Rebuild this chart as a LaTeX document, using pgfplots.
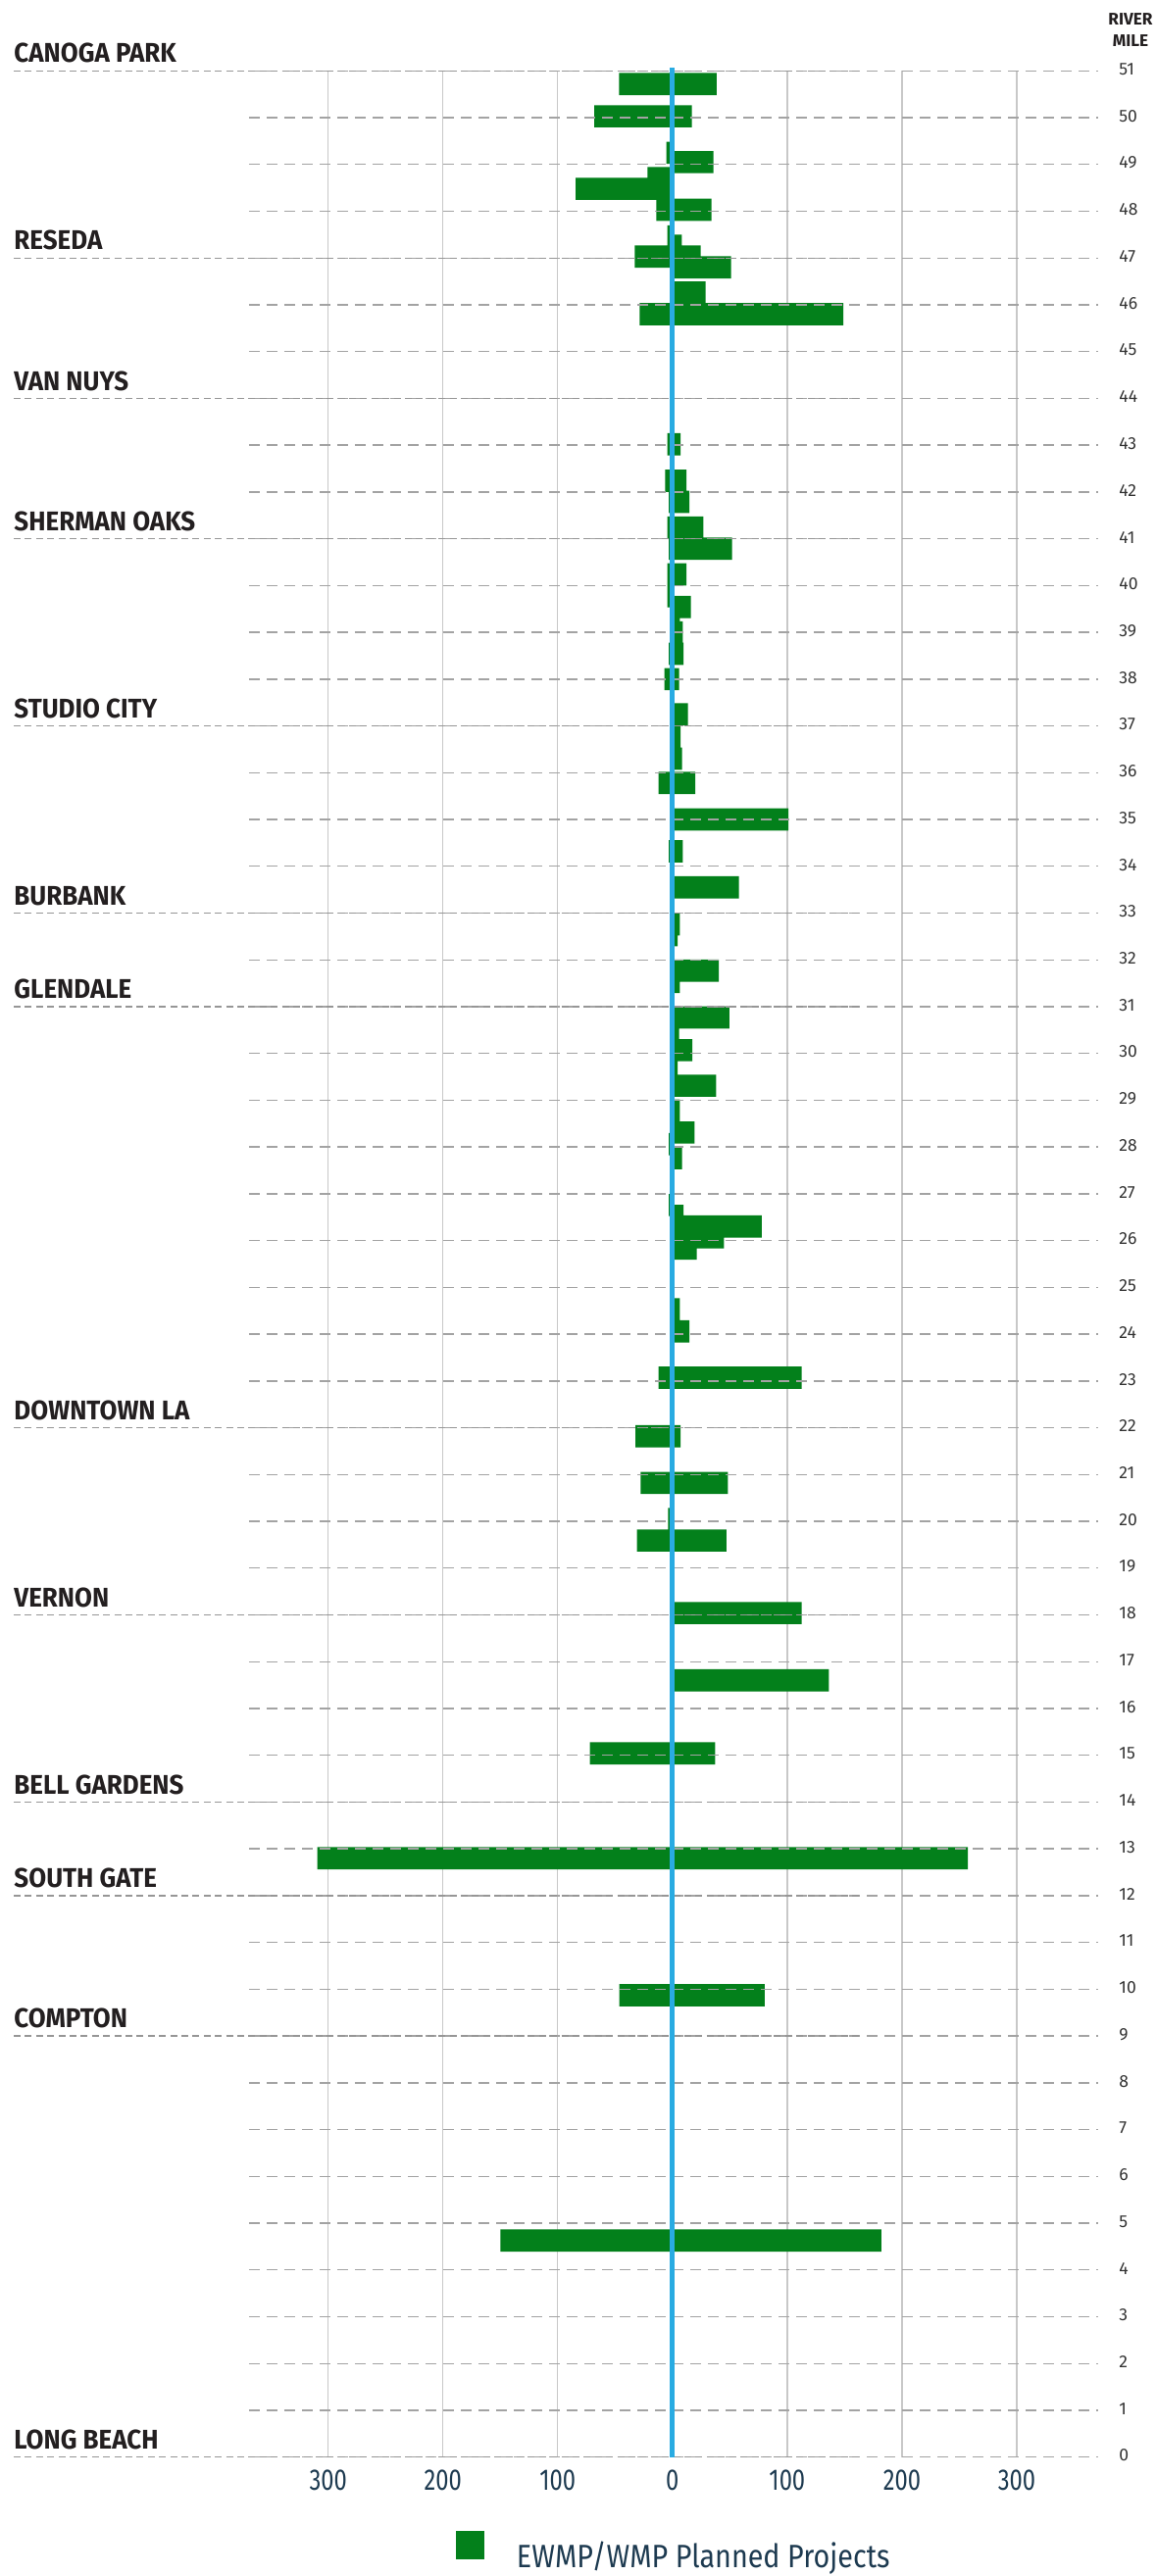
\documentclass[border=0pt]{standalone}
\usepackage{fontspec}
\setmainfont{Fira Sans}
\newfontfamily\cityfont{Fira Sans}[FakeStretch=0.94]
\newfontfamily\tickfont{Fira Sans}[FakeStretch=0.78]
\newfontfamily\legfont{Fira Sans}[FakeStretch=0.87]
\usepackage{pgfplots}
\pgfplotsset{compat=1.18}

\definecolor{barg}{RGB}{3,128,27}
\definecolor{riverblue}{RGB}{41,171,226}
\definecolor{vgrid}{RGB}{200,200,200}
\definecolor{dashgray}{RGB}{163,163,163}
\definecolor{citygray}{RGB}{150,150,150}
\definecolor{citytext}{RGB}{35,31,32}
\definecolor{milegray}{RGB}{51,51,51}
\definecolor{navy}{RGB}{29,58,80}

\tikzset{
    mileline/.style = {draw=dashgray, line width=0.7pt, dash pattern=on 5.5pt off 3.5pt},
    cityline/.style = {draw=citygray, line width=0.7pt, dash pattern=on 3.5pt off 2.2pt},
    bars/.style = {xbar, fill=barg, draw=none, bar width=0.475, bar shift=0pt},
}

% negative side (left of the river line)
\pgfplotstableread{
val mile
-46.6 50.72
-68 50.03
-5.4 49.25
-21.7 48.71
-84.3 48.48
-14 48.03
-4.5 47.46
-32.8 47.03
-28.6 45.80
-4.5 43.02
-6.4 42.24
-3.2 41.79
-4.5 41.24
-3.2 40.79
-4.5 40.24
-4.5 39.77
-3.2 38.54
-7 38.00
-12.2 35.78
-3.2 34.32
-3.2 28.06
-3.2 26.76
-12.2 23.07
-32.2 21.82
-27.7 20.82
-3.9 20.05
-30.9 19.59
-72 15.04
-309.5 12.80
-46.3 9.87
-150 4.63
}\leftbars

% positive side
\pgfplotstableread{
val mile
38.4 50.72
17 50.03
35.7 49.05
34.1 48.03
8.2 47.26
24.6 47.03
51.2 46.80
28.9 46.26
149 45.80
7.1 43.02
12.2 42.24
14.8 41.79
27 41.24
52 40.79
12.2 40.24
16 39.54
6.4 39.23
9 39.00
9.7 38.54
5.8 38.00
13.5 37.25
7 36.77
8.4 36.30
20 35.78
101 35.00
9 34.32
57.9 33.55
6.4 32.76
4.5 32.53
40.5 31.77
6.4 31.53
49.5 30.77
5.8 30.54
17.4 30.07
4.5 29.79
38 29.31
6.4 28.78
19.3 28.31
8.4 27.76
9.7 26.53
77.9 26.30
45 26.07
21.2 25.83
6.4 24.53
14.8 24.06
112.6 23.07
7.1 21.82
48.3 20.82
47 19.59
112.6 18.04
136.4 16.60
37.3 15.04
257.4 12.80
80.4 9.87
182 4.63
}\rightbars

\newcommand{\city}[2]{%
    \draw[cityline] (axis cs:-574,#1) -- (axis cs:166,#1);
    \node[anchor=base west, inner sep=0pt, yshift=4.2pt, text=citytext,
        font=\cityfont\bfseries\fontsize{13.8}{14}\selectfont] at (axis cs:-574,#1) {#2};
}

\begin{document}
\begin{tikzpicture}
    \path[use as bounding box] (-127pt,-60.65pt) rectangle (462pt,1253.35pt);
    \begin{axis}[
        scale only axis,
        width=433pt, height=1217.2pt,
        xmin=-369, xmax=371,
        ymin=0, ymax=51,
        clip=false,
        axis line style={draw=none},
        major tick length=0pt,
        xtick={-300,-200,-100,0,100,200,300},
        xticklabels={300,200,100,0,100,200,300},
        xmajorgrids,
        x grid style={draw=vgrid, line width=0.65pt},
        xticklabel style={anchor=north, inner sep=0pt, yshift=-6.2pt, text=navy,
            font=\tickfont\fontsize{15.2}{16}\selectfont},
        ytick={0,...,51},
        yticklabel pos=right,
        yticklabel={\pgfmathparse{int(\tick)}\pgfmathresult},
        yticklabel style={anchor=west, inner sep=0pt, xshift=10.5pt, yshift=0.8pt, text=milegray,
            font=\fontsize{8.8}{9}\selectfont},
        legend style={draw=none, fill=none, inner sep=0pt, column sep=16.3pt,
            at={(axis description cs:0.2436,-0.0392)}, anchor=west,
            font=\legfont\fontsize{16.5}{18}\selectfont, text=navy,
            nodes={inner sep=0pt}},
        legend image code/.code={\fill[barg] (0pt,-1.55pt) rectangle (14.5pt,12.95pt);},
    ]
        \addplot[bars, forget plot] table[x=val, y=mile] {\leftbars};
        \addplot[bars] table[x=val, y=mile] {\rightbars};
        \addlegendentry{EWMP/WMP Planned Projects}

        \pgfplotsinvokeforeach{0,...,51}{
            \draw[mileline] (axis cs:-369,#1) -- (axis cs:371,#1);
        }

        \city{51}{CANOGA PARK}
        \city{47}{RESEDA}
        \city{44}{VAN NUYS}
        \city{41}{SHERMAN OAKS}
        \city{37}{STUDIO CITY}
        \city{33}{BURBANK}
        \city{31}{GLENDALE}
        \city{22}{DOWNTOWN LA}
        \city{18}{VERNON}
        \city{14}{BELL GARDENS}
        \city{12}{SOUTH GATE}
        \city{9}{COMPTON}
        \city{0}{LONG BEACH}

        \addplot[draw=riverblue, line width=2.6pt, forget plot] coordinates {(0,0) (0,51.06)};

        \node[anchor=base, inner sep=0pt, text=citytext, font=\bfseries\fontsize{8.6}{9}\selectfont]
            at (axis cs:399.2,51.985) {RIVER};
        \node[anchor=base, inner sep=0pt, text=citytext, font=\bfseries\fontsize{8.6}{9}\selectfont]
            at (axis cs:399.2,51.51) {MILE};
    \end{axis}
\end{tikzpicture}
\end{document}
